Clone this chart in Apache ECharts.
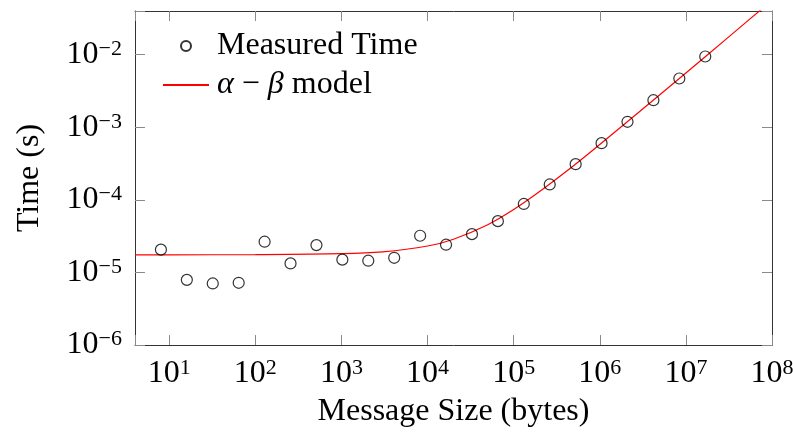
<!DOCTYPE html>
<html>
<head>
<meta charset="utf-8">
<script src="https://cdn.jsdelivr.net/npm/echarts@6/dist/echarts.min.js"></script>
<style>html,body{margin:0;padding:0;background:#fff;}#c{width:793px;height:433px;}</style>
</head>
<body>
<div id="c"></div>
<script>
// Message sizes (bytes)
var msgSizes = [8, 16, 32, 64, 128, 256, 512, 1024, 2048, 4096, 8192, 16384, 32768, 65536,
  131072, 262144, 524288, 1048576, 2097152, 4194304, 8388608, 16777216];
// Measured times (s)
var measuredTimes = [2.06e-5, 7.9e-6, 7.05e-6, 7.2e-6, 2.65e-5, 1.33e-5, 2.38e-5, 1.5e-5, 1.45e-5,
  1.59e-5, 3.2e-5, 2.41e-5, 3.37e-5, 5.09e-5, 8.78e-5, 1.63e-4, 3.1e-4, 6.04e-4, 1.19e-3,
  2.36e-3, 4.7e-3, 9.45e-3];
var modelSizes = [4, 10, 100, 1000, 3000, 10000, 20000, 50000, 100000, 200000, 500000,
  1000000, 3000000, 10000000, 30000000, 100000000];
var modelTimes = [1.75e-5, 1.75e-5, 1.76e-5, 1.81e-5, 1.92e-5, 2.31e-5, 2.87e-5, 4.55e-5,
  7.35e-5, 1.3e-4, 2.97e-4, 5.78e-4, 1.7e-3, 5.6e-3, 1.68e-2, 5.6e-2];
var seriesNames = ['Measured Time', 'α − β model'];

var FONT = 'Liberation Serif';
var FS = 32;
var supRich = {
  b: {fontFamily: FONT, fontSize: FS, color: '#000', lineHeight: 33},
  s: {fontFamily: FONT, fontSize: 22, color: '#000', verticalAlign: 'top'}
};
function powLabel(v) {
  var e = Math.log10(v);
  var r = Math.round(e);
  if (Math.abs(e - r) > 1e-6) return '';
  var exp = r < 0 ? '\u2212' + (-r) : '' + r;
  return '{b|10}{s|' + exp + '}';
}
var lineCol = '#333';
var tickCol = '#8a8a8a';

var chart = echarts.init(document.getElementById('c'), null, {renderer: 'canvas'});
chart.setOption({
  animation: false,
  backgroundColor: '#fff',
  grid: {left: 135, right: 21, top: 11, bottom: 88, containLabel: false, outerBoundsMode: 'none'},
  legend: {
    orient: 'vertical',
    left: 157, top: 25,
    itemWidth: 46, itemHeight: 10, itemGap: 7,
    data: [{name: seriesNames[0]}, {name: seriesNames[1], itemStyle: {opacity: 0}}],
    textStyle: {fontFamily: FONT, fontSize: FS, color: '#000', lineHeight: 31, padding: [0, 0, 0, 3],
      rich: {i: {fontFamily: FONT, fontSize: FS, fontStyle: 'italic', color: '#000', lineHeight: 31}}},
    formatter: function (name) {
      if (name === seriesNames[1]) return '{i|α} − {i|β} model';
      return name;
    }
  },
  xAxis: [{
    type: 'log', logBase: 10, min: 4, max: 1e8, position: 'bottom',
    name: 'Message Size (bytes)', nameLocation: 'middle', nameGap: 51, nameMoveOverlap: false,
    nameTextStyle: {fontFamily: FONT, fontSize: FS, color: '#000'},
    axisLine: {show: true, lineStyle: {color: lineCol, width: 1}},
    axisTick: {show: true, inside: true, length: 10, lineStyle: {color: tickCol}},
    axisLabel: {margin: 12, formatter: powLabel, rich: supRich},
    splitLine: {show: false}, minorTick: {show: false}
  }, {
    type: 'log', logBase: 10, min: 4, max: 1e8, position: 'top',
    axisLine: {show: true, lineStyle: {color: lineCol, width: 1}},
    axisTick: {show: true, inside: true, length: 10, lineStyle: {color: tickCol}},
    axisLabel: {show: false}, splitLine: {show: false}
  }],
  yAxis: [{
    type: 'log', logBase: 10, min: 1e-6, max: 0.04, position: 'left',
    name: 'Time (s)', nameLocation: 'middle', nameGap: 89, nameMoveOverlap: false,
    nameTextStyle: {fontFamily: FONT, fontSize: FS, color: '#000'},
    axisLine: {show: true, lineStyle: {color: lineCol, width: 1}},
    axisTick: {show: true, inside: true, length: 10, lineStyle: {color: tickCol}},
    axisLabel: {margin: 13, formatter: powLabel, rich: supRich},
    splitLine: {show: false}, minorTick: {show: false}
  }, {
    type: 'log', logBase: 10, min: 1e-6, max: 0.04, position: 'right',
    axisLine: {show: true, lineStyle: {color: lineCol, width: 1}},
    axisTick: {show: true, inside: true, length: 10, lineStyle: {color: tickCol}},
    axisLabel: {show: false}, splitLine: {show: false}
  }],
  series: [{
    name: seriesNames[0], type: 'scatter', xAxisIndex: 0, yAxisIndex: 0,
    symbol: 'circle', symbolSize: 11, z: 3,
    itemStyle: {color: 'rgba(0,0,0,0)', borderColor: '#000', borderWidth: 1.2},
    data: msgSizes.map(function (x, i) { return [x, measuredTimes[i]]; })
  }, {
    name: seriesNames[1], type: 'line', xAxisIndex: 0, yAxisIndex: 0,
    symbol: 'none', smooth: 0.3, clip: true, z: 2,
    lineStyle: {color: '#ff0000', width: 1.2}, itemStyle: {color: '#ff0000'},
    data: modelSizes.map(function (x, i) { return [x, modelTimes[i]]; })
  }]
});
</script>
</body>
</html>
